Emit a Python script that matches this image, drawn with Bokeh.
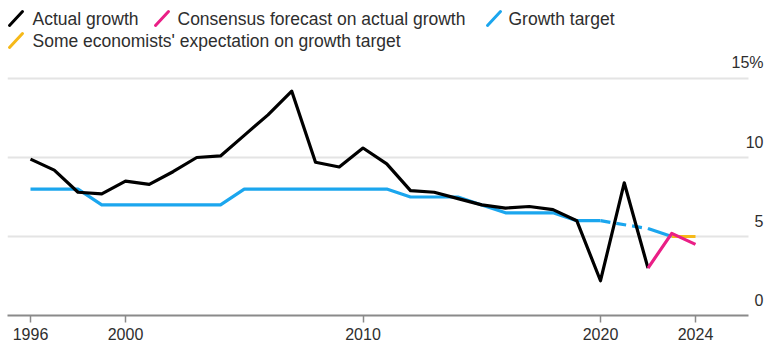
from bokeh.plotting import figure
from bokeh.models import Range1d, FixedTicker, Grid, Label, Arrow
from bokeh.embed import file_html
from bokeh.resources import INLINE

# ---------------- data ----------------
actual_years = list(range(1996, 2023))
actual_growth = [9.9, 9.2, 7.8, 7.7, 8.5, 8.3, 9.1, 10.0, 10.1, 11.4, 12.7, 14.2,
                 9.7, 9.4, 10.6, 9.6, 7.9, 7.8, 7.4, 7.0, 6.8, 6.9, 6.7, 6.0,
                 2.2, 8.4, 3.0]

consensus_years = [2022, 2023, 2024]
consensus_growth = [3.0, 5.2, 4.5]

target_years = list(range(1996, 2021))
target_growth = [8, 8, 8, 7, 7, 7, 7, 7, 7, 8, 8, 8, 8, 8, 8, 8, 7.5, 7.5, 7.5,
                 7.0, 6.5, 6.5, 6.5, 6.0, 6.0]
target_gap_years = [2020, 2022]
target_gap_growth = [6.0, 5.5]
target_recent_years = [2022, 2023]
target_recent_growth = [5.5, 5.0]

expectation_years = [2023, 2024]
expectation_growth = [5.0, 5.0]

x_ticks = [1996, 2000, 2010, 2020, 2024]
y_ticks = [0, 5, 10, 15]
y_tick_labels = ["0", "5", "10", "15%"]

legend_row1 = ["Actual growth", "Consensus forecast on actual growth", "Growth target"]
legend_row2 = ["Some economists' expectation on growth target"]

# ---------------- style ----------------
BLACK = "#000000"
PINK = "#ea1f86"
BLUE = "#1ba6ee"
YELLOW = "#f6b919"
TEXT = "#2e2e2e"
FONT = "Liberation Sans"

W, H = 765, 347
LEFT, RIGHT, TOP, BOTTOM = 7, 0, 0, 32
frame_h = H - TOP - BOTTOM
px_per_unit = 15.8
px_per_year = 23.75
x_start = 1996 - 23 / px_per_year
x_end = x_start + (W - LEFT - RIGHT) / px_per_year
axis_end = x_start + 741 / px_per_year   # axis line / gridlines stop short of the labels

p = figure(width=W, height=H, output_backend="svg", toolbar_location=None,
           x_range=Range1d(x_start, x_end), y_range=Range1d(0, frame_h / px_per_unit),
           y_axis_location=None, min_border_left=LEFT, min_border_right=RIGHT,
           min_border_top=TOP, min_border_bottom=BOTTOM)
p.outline_line_color = None
p.background_fill_color = "white"
p.border_fill_color = "white"
p.xgrid.visible = False
p.ygrid.visible = False

p.add_layout(Grid(dimension=1, ticker=FixedTicker(ticks=[t for t in y_ticks if t > 0]),
                  cross_bounds=(x_start, axis_end),
                  grid_line_color="#e4e4e4", grid_line_width=2))

ax = p.xaxis[0]
ax.ticker = FixedTicker(ticks=x_ticks)
ax.bounds = (x_start, axis_end)
ax.axis_line_color = "#8a8a8a"
ax.axis_line_width = 2
ax.major_tick_line_color = "#8a8a8a"
ax.major_tick_line_width = 1.5
ax.major_tick_in = 0
ax.major_tick_out = 7
ax.minor_tick_line_color = None
ax.major_label_standoff = 5
ax.major_label_text_font = FONT
ax.major_label_text_font_size = "16px"
ax.major_label_text_color = TEXT

# y labels above the gridlines at right
for yv, txt in zip(y_ticks, y_tick_labels):
    p.add_layout(Label(x=x_end, y=yv, text=txt, x_offset=-2, y_offset=16,
                       text_align="right", text_baseline="middle", text_font=FONT,
                       text_font_size="16px", text_color=TEXT))

lw = 3.2
p.line(target_years, target_growth, line_color=BLUE, line_width=lw, line_join="round")
p.line(target_gap_years, target_gap_growth, line_color=BLUE, line_width=lw, line_dash="10 6")
p.line(target_recent_years, target_recent_growth, line_color=BLUE, line_width=lw, line_join="round")
p.line(expectation_years, expectation_growth, line_color=YELLOW, line_width=lw)
p.line(actual_years, actual_growth, line_color=BLACK, line_width=lw, line_join="round")
p.line(consensus_years, consensus_growth, line_color=PINK, line_width=lw, line_join="round")

# legend (manual, slash icons)
def legend_item(x_icon, x_text, yc, color, text):
    p.add_layout(Arrow(end=None, x_start=x_icon, y_start=yc + 7, x_end=x_icon + 13, y_end=yc - 7,
                       start_units="canvas", end_units="canvas", line_color=color,
                       line_width=3, line_cap="round"))
    p.add_layout(Label(x=x_text, y=yc, x_units="canvas", y_units="canvas", text=text,
                       text_baseline="middle", text_align="left", text_font=FONT,
                       text_font_size="17.5px", text_color=TEXT))

legend_item(9, 32, 18, BLACK, legend_row1[0])
legend_item(155, 177, 18, PINK, legend_row1[1])
legend_item(487, 508, 18, BLUE, legend_row1[2])
legend_item(9, 32, 40, YELLOW, legend_row2[0])

open("out.html", "w").write(file_html(p, INLINE))
